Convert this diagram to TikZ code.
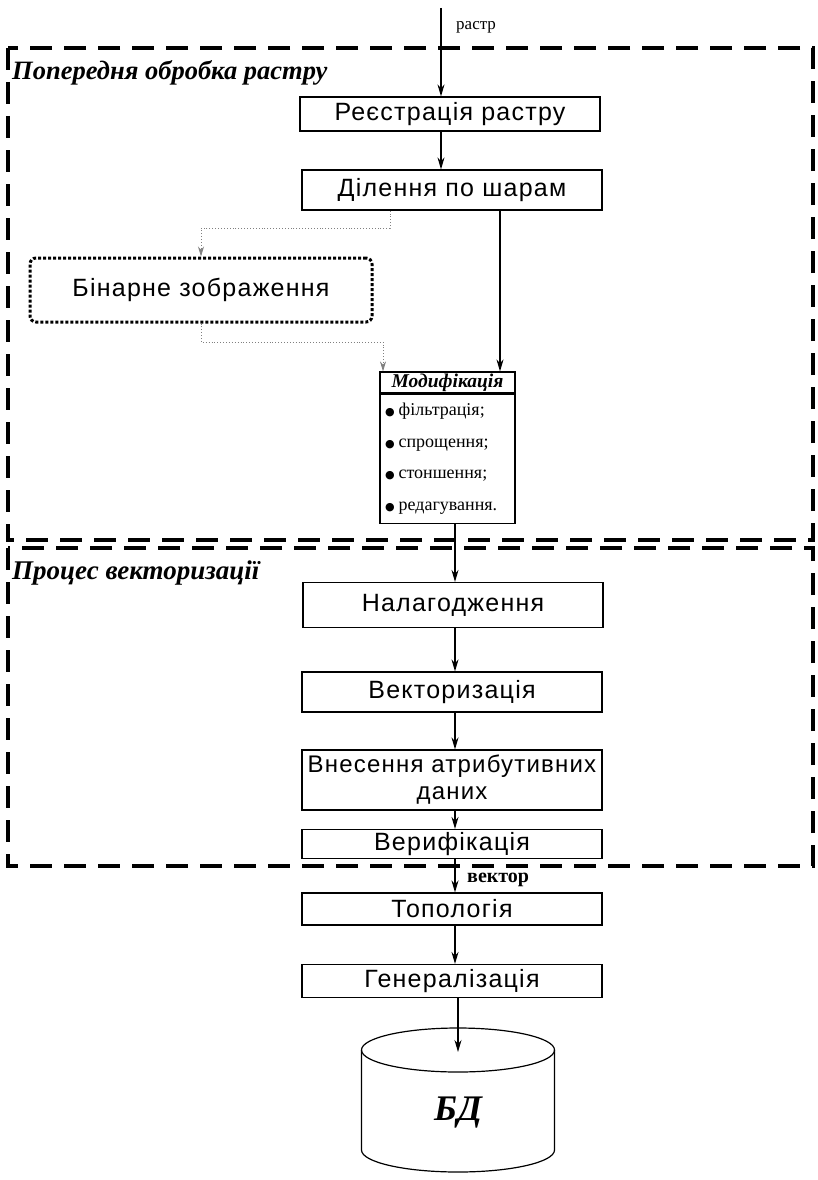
\documentclass[tikz,border=0pt]{standalone}
\usepackage{fontspec}
\setmainfont{Liberation Serif}
\setsansfont{Liberation Sans}
\newfontfamily\boxfont[LetterSpace=5]{Liberation Sans}
\newfontfamily\dotfont{DejaVu Sans}
\usetikzlibrary{arrows.meta}

\newcommand{\modbullet}{{\dotfont\fontsize{11}{11}\selectfont ●}\hspace{4pt}}

\tikzset{
  stagebox/.style={draw, line width=1.2pt, inner sep=1pt, align=center,
    minimum width=300pt, font=\boxfont\fontsize{25}{28}\selectfont},
  flow/.style={line width=1.2pt, -{Stealth[length=12pt, width=7pt]}},
  dotlink/.style={line width=0.9pt, dotted, black!50, -{Stealth[length=10pt, width=6pt]}},
  zone/.style={line width=3.2pt, dash pattern=on 22pt off 12pt},
  zonetitle/.style={anchor=west, inner sep=0pt, font=\bfseries\itshape\fontsize{26.5}{29}\selectfont},
  modhead/.style={draw, line width=1.2pt, minimum width=135pt, minimum height=21pt,
    inner sep=0pt, font=\bfseries\itshape\fontsize{19.5}{21}\selectfont},
  modbody/.style={draw, line width=1.2pt, minimum width=135pt, minimum height=129pt,
    text width=125pt, inner xsep=5pt, align=left, font=\fontsize{18}{31.5}\selectfont},
  tag/.style={anchor=west, inner sep=0pt, font=\fontsize{17}{19}\selectfont}
}

\begin{document}
\begin{tikzpicture}[x=1pt, y=-1pt]
    \useasboundingbox (0,0) rectangle (817,1180);

    % Section frames
    \draw[zone] (8,48) rectangle (813,540);
    \draw[zone] (8,548) rectangle (813,866);
    \node[zonetitle] (pretitle) at (12,73) {Попередня обробка растру};
    \node[zonetitle, font=\bfseries\itshape\fontsize{27}{29}\selectfont] (vectitle) at (12,573) {Процес векторизації};

    % Raster preprocessing
    \coordinate (rasterin) at (441,8);
    \node[tag] (rastertag) at (456,27) {растр};
    \node[stagebox, minimum height=34pt] (reg) at (450,114) {Реєстрація растру};
    \node[stagebox, minimum height=40pt] (split) at (452,190) {Ділення по шарам};
    \node[draw, dotted, line width=3pt, rounded corners=6pt, minimum width=342pt,
      minimum height=64pt, font=\boxfont\fontsize{25}{28}\selectfont] (binary) at (201,290) {Бінарне зображення};
    \node[modhead] (modhead) at (447.5,382.5) {Модифікація};
    \node[modbody, anchor=north] (modbody) at (modhead.south)
      {\modbullet фільтрація;\\ \modbullet спрощення;\\ \modbullet стоншення;\\ \modbullet редагування.};

    \draw[flow] (rasterin) -- (rasterin |- reg.north);
    \draw[flow] (reg.south -| rasterin) -- (split.north -| rasterin);
    \coordinate (dropA) at (390,228);
    \draw[dotlink] (split.south -| dropA) -- (dropA) -| (binary.north);
    \coordinate (dropB) at (383,342);
    \draw[dotlink] (binary.south) |- (dropB) -- (dropB |- modhead.north);
    \coordinate (mainline) at (500,0);
    \draw[flow] (split.south -| mainline) -- (modhead.north -| mainline);

    % Vectorisation
    \coordinate (axis) at (455,0);
    \node[stagebox, minimum height=45pt] (tune) at (453,605) {Налагодження};
    \node[stagebox, minimum height=40pt] (vect) at (452,692) {Векторизація};
    \node[stagebox, minimum height=60pt, font=\boxfont\fontsize{24}{27}\selectfont] (attr) at (452,780) {Внесення атрибутивних\\даних};
    \node[stagebox, minimum height=29pt] (verif) at (452,844) {Верифікація};

    \draw[flow] (modbody.south -| axis) -- (tune.north -| axis);
    \draw[flow] (tune.south -| axis) -- (vect.north -| axis);
    \draw[flow] (vect.south -| axis) -- (attr.north -| axis);
    \draw[flow] (attr.south -| axis) -- (verif.north -| axis);

    % Vector output
    \node[tag, font=\bfseries\fontsize{20}{22}\selectfont] (vectortag) at (467,880) {вектор};
    \node[stagebox, minimum height=32pt] (topo) at (452,909) {Топологія};
    \node[stagebox, minimum height=33pt] (gen) at (452,981) {Генералізація};
    \draw[flow] (verif.south -| axis) -- (topo.north -| axis);
    \draw[flow] (topo.south -| axis) -- (gen.north -| axis);

    % Database
    \draw[line width=1.2pt] (361.5,1050) -- ++(0,100)
      arc[start angle=180, end angle=360, x radius=96.5pt, y radius=22pt] -- ++(0,-100);
    \draw[line width=1.2pt] (458,1050) ellipse [x radius=96.5pt, y radius=22pt];
    \coordinate (dbtop) at (458,1052);
    \node[font=\bfseries\itshape\fontsize{36}{40}\selectfont] (db) at (458,1113) {БД};
    \draw[flow] (gen.south -| dbtop) -- (dbtop);
\end{tikzpicture}
\end{document}
